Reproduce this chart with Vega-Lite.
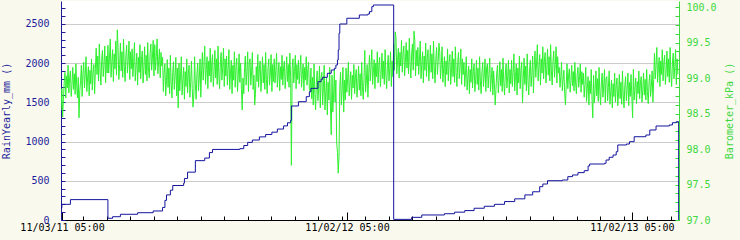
{
"$schema": "https://vega.github.io/schema/vega-lite/v6.json",
"width": 618,
"height": 219,
"autosize": "none",
"padding": {"left": 61, "top": 1, "right": 61, "bottom": 20},
"background": "#f9f9ee",
"config": {
  "view": {"fill": "white", "stroke": null},
  "axis": {"labelFont": "DejaVu Sans Mono", "titleFont": "DejaVu Sans Mono", "labelFontSize": 10, "titleFontSize": 10, "titleFontWeight": "normal", "labelBound": false, "labelFlush": false}
},
"datasets": {
"baro": [
{"t":"2011-11-02","p":98.55},{"t":"2011-11-03","p":98.85},{"t":"2011-11-04","p":98.45},{"t":"2011-11-05","p":98.70},{"t":"2011-11-06","p":98.94},{"t":"2011-11-07","p":99.08},{"t":"2011-11-08","p":98.72},{"t":"2011-11-09","p":99.03},{"t":"2011-11-10","p":98.86},{"t":"2011-11-11","p":99.18},{"t":"2011-11-12","p":98.79},{"t":"2011-11-13","p":99.01},{"t":"2011-11-14","p":99.10},{"t":"2011-11-15","p":98.74},{"t":"2011-11-16","p":98.91},{"t":"2011-11-17","p":99.15},{"t":"2011-11-18","p":98.84},{"t":"2011-11-19","p":99.06},{"t":"2011-11-20","p":98.77},{"t":"2011-11-21","p":99.20},{"t":"2011-11-22","p":98.89},{"t":"2011-11-23","p":98.72},{"t":"2011-11-24","p":99.01},{"t":"2011-11-25","p":98.44},{"t":"2011-11-26","p":98.82},{"t":"2011-11-27","p":98.96},{"t":"2011-11-28","p":99.18},{"t":"2011-11-29","p":98.74},{"t":"2011-11-30","p":99.06},
{"t":"2011-12-01","p":99.22},{"t":"2011-12-02","p":98.86},{"t":"2011-12-03","p":99.05},{"t":"2011-12-04","p":99.30},{"t":"2011-12-05","p":98.81},{"t":"2011-12-06","p":99.00},{"t":"2011-12-07","p":99.16},{"t":"2011-12-08","p":98.75},{"t":"2011-12-09","p":99.11},{"t":"2011-12-10","p":98.92},{"t":"2011-12-11","p":99.27},{"t":"2011-12-12","p":98.83},{"t":"2011-12-13","p":99.08},{"t":"2011-12-14","p":99.19},{"t":"2011-12-15","p":98.78},{"t":"2011-12-16","p":99.13},{"t":"2011-12-17","p":99.42},{"t":"2011-12-18","p":99.05},{"t":"2011-12-19","p":99.31},{"t":"2011-12-20","p":98.96},{"t":"2011-12-21","p":99.48},{"t":"2011-12-22","p":99.10},{"t":"2011-12-23","p":98.90},{"t":"2011-12-24","p":99.25},{"t":"2011-12-25","p":99.39},{"t":"2011-12-26","p":99.02},{"t":"2011-12-27","p":99.19},{"t":"2011-12-28","p":99.45},{"t":"2011-12-29","p":98.93},{"t":"2011-12-30","p":99.31},{"t":"2011-12-31","p":99.07},
{"t":"2012-01-01","p":99.46},{"t":"2012-01-02","p":99.07},{"t":"2012-01-03","p":99.28},{"t":"2012-01-04","p":99.55},{"t":"2012-01-05","p":99.01},{"t":"2012-01-06","p":99.22},{"t":"2012-01-07","p":99.40},{"t":"2012-01-08","p":98.95},{"t":"2012-01-09","p":99.34},{"t":"2012-01-10","p":99.13},{"t":"2012-01-11","p":99.52},{"t":"2012-01-12","p":99.04},{"t":"2012-01-13","p":99.68},{"t":"2012-01-14","p":99.43},{"t":"2012-01-15","p":98.98},{"t":"2012-01-16","p":99.19},{"t":"2012-01-17","p":99.49},{"t":"2012-01-18","p":99.10},{"t":"2012-01-19","p":99.37},{"t":"2012-01-20","p":99.01},{"t":"2012-01-21","p":99.55},{"t":"2012-01-22","p":99.16},{"t":"2012-01-23","p":98.95},{"t":"2012-01-24","p":99.31},{"t":"2012-01-25","p":99.46},{"t":"2012-01-26","p":99.07},{"t":"2012-01-27","p":99.25},{"t":"2012-01-28","p":99.52},{"t":"2012-01-29","p":98.98},{"t":"2012-01-30","p":99.37},{"t":"2012-01-31","p":99.13},
{"t":"2012-02-01","p":99.41},{"t":"2012-02-02","p":99.02},{"t":"2012-02-03","p":99.23},{"t":"2012-02-04","p":99.50},{"t":"2012-02-05","p":98.96},{"t":"2012-02-06","p":99.17},{"t":"2012-02-07","p":99.35},{"t":"2012-02-08","p":98.90},{"t":"2012-02-09","p":99.29},{"t":"2012-02-10","p":99.08},{"t":"2012-02-11","p":99.47},{"t":"2012-02-12","p":98.99},{"t":"2012-02-13","p":99.26},{"t":"2012-02-14","p":99.38},{"t":"2012-02-15","p":98.93},{"t":"2012-02-16","p":99.14},{"t":"2012-02-17","p":99.44},{"t":"2012-02-18","p":99.05},{"t":"2012-02-19","p":99.32},{"t":"2012-02-20","p":98.96},{"t":"2012-02-21","p":99.50},{"t":"2012-02-22","p":99.11},{"t":"2012-02-23","p":99.00},{"t":"2012-02-24","p":99.34},{"t":"2012-02-25","p":99.48},{"t":"2012-02-26","p":99.11},{"t":"2012-02-27","p":99.28},{"t":"2012-02-28","p":99.53},{"t":"2012-02-29","p":99.03},
{"t":"2012-03-01","p":99.47},{"t":"2012-03-02","p":99.11},{"t":"2012-03-03","p":99.30},{"t":"2012-03-04","p":99.55},{"t":"2012-03-05","p":99.06},{"t":"2012-03-06","p":99.25},{"t":"2012-03-07","p":99.41},{"t":"2012-03-08","p":99.00},{"t":"2012-03-09","p":99.36},{"t":"2012-03-10","p":99.17},{"t":"2012-03-11","p":99.29},{"t":"2012-03-12","p":98.81},{"t":"2012-03-13","p":99.08},{"t":"2012-03-14","p":99.20},{"t":"2012-03-15","p":98.75},{"t":"2012-03-16","p":98.96},{"t":"2012-03-17","p":99.26},{"t":"2012-03-18","p":98.87},{"t":"2012-03-19","p":99.14},{"t":"2012-03-20","p":98.78},{"t":"2012-03-21","p":99.32},{"t":"2012-03-22","p":98.93},{"t":"2012-03-23","p":98.72},{"t":"2012-03-24","p":99.08},{"t":"2012-03-25","p":99.23},{"t":"2012-03-26","p":98.84},{"t":"2012-03-27","p":99.02},{"t":"2012-03-28","p":99.29},{"t":"2012-03-29","p":98.75},{"t":"2012-03-30","p":99.14},{"t":"2012-03-31","p":98.58},
{"t":"2012-04-01","p":99.21},{"t":"2012-04-02","p":98.82},{"t":"2012-04-03","p":99.03},{"t":"2012-04-04","p":99.30},{"t":"2012-04-05","p":98.76},{"t":"2012-04-06","p":98.97},{"t":"2012-04-07","p":99.15},{"t":"2012-04-08","p":98.70},{"t":"2012-04-09","p":99.09},{"t":"2012-04-10","p":98.88},{"t":"2012-04-11","p":99.27},{"t":"2012-04-12","p":98.79},{"t":"2012-04-13","p":99.06},{"t":"2012-04-14","p":99.18},{"t":"2012-04-15","p":98.73},{"t":"2012-04-16","p":98.94},{"t":"2012-04-17","p":99.24},{"t":"2012-04-18","p":98.85},{"t":"2012-04-19","p":98.59},{"t":"2012-04-20","p":98.76},{"t":"2012-04-21","p":99.30},{"t":"2012-04-22","p":98.91},{"t":"2012-04-23","p":98.70},{"t":"2012-04-24","p":99.06},{"t":"2012-04-25","p":99.21},{"t":"2012-04-26","p":98.82},{"t":"2012-04-27","p":99.00},{"t":"2012-04-28","p":99.27},{"t":"2012-04-29","p":98.73},{"t":"2012-04-30","p":99.12},
{"t":"2012-05-01","p":99.36},{"t":"2012-05-02","p":98.97},{"t":"2012-05-03","p":99.18},{"t":"2012-05-04","p":99.45},{"t":"2012-05-05","p":98.91},{"t":"2012-05-06","p":99.12},{"t":"2012-05-07","p":99.30},{"t":"2012-05-08","p":98.85},{"t":"2012-05-09","p":99.24},{"t":"2012-05-10","p":99.03},{"t":"2012-05-11","p":99.42},{"t":"2012-05-12","p":98.94},{"t":"2012-05-13","p":99.21},{"t":"2012-05-14","p":99.33},{"t":"2012-05-15","p":98.88},{"t":"2012-05-16","p":99.09},{"t":"2012-05-17","p":99.39},{"t":"2012-05-18","p":99.00},{"t":"2012-05-19","p":99.27},{"t":"2012-05-20","p":98.91},{"t":"2012-05-21","p":99.45},{"t":"2012-05-22","p":99.06},{"t":"2012-05-23","p":98.85},{"t":"2012-05-24","p":99.21},{"t":"2012-05-25","p":99.36},{"t":"2012-05-26","p":98.97},{"t":"2012-05-27","p":99.15},{"t":"2012-05-28","p":99.42},{"t":"2012-05-29","p":98.88},{"t":"2012-05-30","p":99.27},{"t":"2012-05-31","p":99.03},
{"t":"2012-06-01","p":99.31},{"t":"2012-06-02","p":98.90},{"t":"2012-06-03","p":99.12},{"t":"2012-06-04","p":99.40},{"t":"2012-06-05","p":98.84},{"t":"2012-06-06","p":99.06},{"t":"2012-06-07","p":99.25},{"t":"2012-06-08","p":98.78},{"t":"2012-06-09","p":99.18},{"t":"2012-06-10","p":98.97},{"t":"2012-06-11","p":99.37},{"t":"2012-06-12","p":98.87},{"t":"2012-06-13","p":99.15},{"t":"2012-06-14","p":99.28},{"t":"2012-06-15","p":98.81},{"t":"2012-06-16","p":99.03},{"t":"2012-06-17","p":99.34},{"t":"2012-06-18","p":98.94},{"t":"2012-06-19","p":99.21},{"t":"2012-06-20","p":98.84},{"t":"2012-06-21","p":98.55},{"t":"2012-06-22","p":99.00},{"t":"2012-06-23","p":98.78},{"t":"2012-06-24","p":99.15},{"t":"2012-06-25","p":99.31},{"t":"2012-06-26","p":98.90},{"t":"2012-06-27","p":99.09},{"t":"2012-06-28","p":99.37},{"t":"2012-06-29","p":98.81},{"t":"2012-06-30","p":99.21},
{"t":"2012-07-01","p":99.27},{"t":"2012-07-02","p":98.90},{"t":"2012-07-03","p":99.10},{"t":"2012-07-04","p":99.36},{"t":"2012-07-05","p":98.84},{"t":"2012-07-06","p":99.04},{"t":"2012-07-07","p":98.62},{"t":"2012-07-08","p":98.78},{"t":"2012-07-09","p":99.16},{"t":"2012-07-10","p":98.95},{"t":"2012-07-11","p":99.33},{"t":"2012-07-12","p":98.87},{"t":"2012-07-13","p":99.13},{"t":"2012-07-14","p":99.24},{"t":"2012-07-15","p":98.81},{"t":"2012-07-16","p":99.01},{"t":"2012-07-17","p":99.30},{"t":"2012-07-18","p":98.93},{"t":"2012-07-19","p":99.19},{"t":"2012-07-20","p":98.84},{"t":"2012-07-21","p":99.36},{"t":"2012-07-22","p":98.98},{"t":"2012-07-23","p":98.78},{"t":"2012-07-24","p":99.13},{"t":"2012-07-25","p":99.27},{"t":"2012-07-26","p":98.90},{"t":"2012-07-27","p":99.07},{"t":"2012-07-28","p":99.33},{"t":"2012-07-29","p":98.81},{"t":"2012-07-30","p":99.19},{"t":"2012-07-31","p":98.95},
{"t":"2012-08-01","p":99.27},{"t":"2012-08-02","p":98.93},{"t":"2012-08-03","p":99.11},{"t":"2012-08-04","p":99.35},{"t":"2012-08-05","p":98.87},{"t":"2012-08-06","p":99.06},{"t":"2012-08-07","p":99.22},{"t":"2012-08-08","p":98.82},{"t":"2012-08-09","p":99.16},{"t":"2012-08-10","p":98.98},{"t":"2012-08-11","p":99.32},{"t":"2012-08-12","p":98.90},{"t":"2012-08-13","p":99.14},{"t":"2012-08-14","p":99.24},{"t":"2012-08-15","p":98.85},{"t":"2012-08-16","p":99.03},{"t":"2012-08-17","p":99.30},{"t":"2012-08-18","p":98.95},{"t":"2012-08-19","p":99.19},{"t":"2012-08-20","p":98.87},{"t":"2012-08-21","p":99.35},{"t":"2012-08-22","p":99.01},{"t":"2012-08-23","p":97.77},{"t":"2012-08-24","p":99.14},{"t":"2012-08-25","p":99.27},{"t":"2012-08-26","p":98.93},{"t":"2012-08-27","p":99.09},{"t":"2012-08-28","p":99.32},{"t":"2012-08-29","p":98.85},{"t":"2012-08-30","p":99.19},{"t":"2012-08-31","p":98.98},
{"t":"2012-09-01","p":99.25},{"t":"2012-09-02","p":98.92},{"t":"2012-09-03","p":99.10},{"t":"2012-09-04","p":99.32},{"t":"2012-09-05","p":98.87},{"t":"2012-09-06","p":99.05},{"t":"2012-09-07","p":99.20},{"t":"2012-09-08","p":98.82},{"t":"2012-09-09","p":99.15},{"t":"2012-09-10","p":98.97},{"t":"2012-09-11","p":99.30},{"t":"2012-09-12","p":98.90},{"t":"2012-09-13","p":99.12},{"t":"2012-09-14","p":99.22},{"t":"2012-09-15","p":98.85},{"t":"2012-09-16","p":98.81},{"t":"2012-09-17","p":99.14},{"t":"2012-09-18","p":98.71},{"t":"2012-09-19","p":99.01},{"t":"2012-09-20","p":98.62},{"t":"2012-09-21","p":99.20},{"t":"2012-09-22","p":98.78},{"t":"2012-09-23","p":98.55},{"t":"2012-09-24","p":98.94},{"t":"2012-09-25","p":99.10},{"t":"2012-09-26","p":98.68},{"t":"2012-09-27","p":98.88},{"t":"2012-09-28","p":99.17},{"t":"2012-09-29","p":98.58},{"t":"2012-09-30","p":99.01},
{"t":"2012-10-01","p":99.08},{"t":"2012-10-02","p":98.62},{"t":"2012-10-03","p":98.87},{"t":"2012-10-04","p":99.18},{"t":"2012-10-05","p":98.55},{"t":"2012-10-06","p":98.80},{"t":"2012-10-07","p":99.01},{"t":"2012-10-08","p":98.48},{"t":"2012-10-09","p":98.94},{"t":"2012-10-10","p":98.69},{"t":"2012-10-11","p":99.15},{"t":"2012-10-12","p":98.59},{"t":"2012-10-13","p":98.20},{"t":"2012-10-14","p":99.04},{"t":"2012-10-15","p":98.52},{"t":"2012-10-16","p":98.76},{"t":"2012-10-17","p":99.11},{"t":"2012-10-18","p":98.66},{"t":"2012-10-19","p":98.97},{"t":"2012-10-20","p":98.10},{"t":"2012-10-21","p":97.95},{"t":"2012-10-22","p":97.66},{"t":"2012-10-23","p":97.90},{"t":"2012-10-24","p":98.90},{"t":"2012-10-25","p":99.08},{"t":"2012-10-26","p":98.62},{"t":"2012-10-27","p":98.83},{"t":"2012-10-28","p":99.15},{"t":"2012-10-29","p":98.52},{"t":"2012-10-30","p":98.97},{"t":"2012-10-31","p":98.69},
{"t":"2012-11-01","p":99.14},{"t":"2012-11-02","p":98.80},{"t":"2012-11-03","p":98.99},{"t":"2012-11-04","p":99.22},{"t":"2012-11-05","p":98.75},{"t":"2012-11-06","p":98.93},{"t":"2012-11-07","p":99.09},{"t":"2012-11-08","p":98.70},{"t":"2012-11-09","p":99.04},{"t":"2012-11-10","p":98.86},{"t":"2012-11-11","p":99.19},{"t":"2012-11-12","p":98.78},{"t":"2012-11-13","p":99.01},{"t":"2012-11-14","p":99.12},{"t":"2012-11-15","p":98.73},{"t":"2012-11-16","p":98.91},{"t":"2012-11-17","p":99.17},{"t":"2012-11-18","p":98.83},{"t":"2012-11-19","p":99.06},{"t":"2012-11-20","p":98.75},{"t":"2012-11-21","p":99.22},{"t":"2012-11-22","p":98.88},{"t":"2012-11-23","p":98.70},{"t":"2012-11-24","p":99.01},{"t":"2012-11-25","p":99.39},{"t":"2012-11-26","p":98.80},{"t":"2012-11-27","p":98.96},{"t":"2012-11-28","p":99.19},{"t":"2012-11-29","p":98.73},{"t":"2012-11-30","p":99.06},
{"t":"2012-12-01","p":99.32},{"t":"2012-12-02","p":98.96},{"t":"2012-12-03","p":99.15},{"t":"2012-12-04","p":99.40},{"t":"2012-12-05","p":98.91},{"t":"2012-12-06","p":99.10},{"t":"2012-12-07","p":99.26},{"t":"2012-12-08","p":98.85},{"t":"2012-12-09","p":99.21},{"t":"2012-12-10","p":99.02},{"t":"2012-12-11","p":99.37},{"t":"2012-12-12","p":98.93},{"t":"2012-12-13","p":99.18},{"t":"2012-12-14","p":99.29},{"t":"2012-12-15","p":98.88},{"t":"2012-12-16","p":99.07},{"t":"2012-12-17","p":99.35},{"t":"2012-12-18","p":98.99},{"t":"2012-12-19","p":99.24},{"t":"2012-12-20","p":98.91},{"t":"2012-12-21","p":99.40},{"t":"2012-12-22","p":99.04},{"t":"2012-12-23","p":98.85},{"t":"2012-12-24","p":99.18},{"t":"2012-12-25","p":99.32},{"t":"2012-12-26","p":98.96},{"t":"2012-12-27","p":99.13},{"t":"2012-12-28","p":99.37},{"t":"2012-12-29","p":98.88},{"t":"2012-12-30","p":99.24},{"t":"2012-12-31","p":99.02},
{"t":"2013-01-01","p":99.48},{"t":"2013-01-02","p":99.11},{"t":"2013-01-03","p":99.65},{"t":"2013-01-04","p":99.56},{"t":"2013-01-05","p":99.06},{"t":"2013-01-06","p":99.25},{"t":"2013-01-07","p":99.42},{"t":"2013-01-08","p":99.00},{"t":"2013-01-09","p":99.36},{"t":"2013-01-10","p":99.17},{"t":"2013-01-11","p":99.53},{"t":"2013-01-12","p":99.08},{"t":"2013-01-13","p":99.34},{"t":"2013-01-14","p":99.45},{"t":"2013-01-15","p":99.03},{"t":"2013-01-16","p":99.22},{"t":"2013-01-17","p":99.50},{"t":"2013-01-18","p":99.14},{"t":"2013-01-19","p":99.39},{"t":"2013-01-20","p":99.06},{"t":"2013-01-21","p":99.56},{"t":"2013-01-22","p":99.20},{"t":"2013-01-23","p":99.00},{"t":"2013-01-24","p":99.34},{"t":"2013-01-25","p":99.48},{"t":"2013-01-26","p":99.11},{"t":"2013-01-27","p":99.66},{"t":"2013-01-28","p":99.53},{"t":"2013-01-29","p":99.03},{"t":"2013-01-30","p":99.39},{"t":"2013-01-31","p":99.17},
{"t":"2013-02-01","p":99.43},{"t":"2013-02-02","p":99.05},{"t":"2013-02-03","p":99.25},{"t":"2013-02-04","p":99.52},{"t":"2013-02-05","p":98.99},{"t":"2013-02-06","p":99.20},{"t":"2013-02-07","p":99.37},{"t":"2013-02-08","p":98.93},{"t":"2013-02-09","p":99.31},{"t":"2013-02-10","p":99.11},{"t":"2013-02-11","p":99.49},{"t":"2013-02-12","p":99.02},{"t":"2013-02-13","p":99.28},{"t":"2013-02-14","p":99.40},{"t":"2013-02-15","p":98.96},{"t":"2013-02-16","p":99.17},{"t":"2013-02-17","p":99.46},{"t":"2013-02-18","p":99.08},{"t":"2013-02-19","p":99.34},{"t":"2013-02-20","p":98.99},{"t":"2013-02-21","p":99.52},{"t":"2013-02-22","p":99.14},{"t":"2013-02-23","p":98.93},{"t":"2013-02-24","p":99.28},{"t":"2013-02-25","p":99.43},{"t":"2013-02-26","p":99.05},{"t":"2013-02-27","p":99.23},{"t":"2013-02-28","p":99.49},
{"t":"2013-03-01","p":99.36},{"t":"2013-03-02","p":98.99},{"t":"2013-03-03","p":99.19},{"t":"2013-03-04","p":99.44},{"t":"2013-03-05","p":98.94},{"t":"2013-03-06","p":99.13},{"t":"2013-03-07","p":99.30},{"t":"2013-03-08","p":98.88},{"t":"2013-03-09","p":99.24},{"t":"2013-03-10","p":99.05},{"t":"2013-03-11","p":99.41},{"t":"2013-03-12","p":98.96},{"t":"2013-03-13","p":99.22},{"t":"2013-03-14","p":99.33},{"t":"2013-03-15","p":98.91},{"t":"2013-03-16","p":99.10},{"t":"2013-03-17","p":99.38},{"t":"2013-03-18","p":99.02},{"t":"2013-03-19","p":99.27},{"t":"2013-03-20","p":98.94},{"t":"2013-03-21","p":99.44},{"t":"2013-03-22","p":99.08},{"t":"2013-03-23","p":98.88},{"t":"2013-03-24","p":99.22},{"t":"2013-03-25","p":99.36},{"t":"2013-03-26","p":98.99},{"t":"2013-03-27","p":99.16},{"t":"2013-03-28","p":99.41},{"t":"2013-03-29","p":98.91},{"t":"2013-03-30","p":99.27},{"t":"2013-03-31","p":99.05},
{"t":"2013-04-01","p":99.22},{"t":"2013-04-02","p":98.88},{"t":"2013-04-03","p":99.07},{"t":"2013-04-04","p":99.30},{"t":"2013-04-05","p":98.83},{"t":"2013-04-06","p":99.01},{"t":"2013-04-07","p":99.17},{"t":"2013-04-08","p":98.78},{"t":"2013-04-09","p":99.12},{"t":"2013-04-10","p":98.94},{"t":"2013-04-11","p":99.27},{"t":"2013-04-12","p":98.86},{"t":"2013-04-13","p":99.09},{"t":"2013-04-14","p":99.20},{"t":"2013-04-15","p":98.81},{"t":"2013-04-16","p":98.99},{"t":"2013-04-17","p":99.25},{"t":"2013-04-18","p":98.91},{"t":"2013-04-19","p":99.14},{"t":"2013-04-20","p":98.83},{"t":"2013-04-21","p":99.30},{"t":"2013-04-22","p":98.96},{"t":"2013-04-23","p":98.78},{"t":"2013-04-24","p":99.09},{"t":"2013-04-25","p":99.22},{"t":"2013-04-26","p":98.88},{"t":"2013-04-27","p":99.04},{"t":"2013-04-28","p":99.27},{"t":"2013-04-29","p":98.81},{"t":"2013-04-30","p":99.14},
{"t":"2013-05-01","p":99.20},{"t":"2013-05-02","p":98.86},{"t":"2013-05-03","p":99.05},{"t":"2013-05-04","p":99.28},{"t":"2013-05-05","p":98.81},{"t":"2013-05-06","p":98.99},{"t":"2013-05-07","p":99.15},{"t":"2013-05-08","p":98.76},{"t":"2013-05-09","p":99.10},{"t":"2013-05-10","p":98.92},{"t":"2013-05-11","p":98.62},{"t":"2013-05-12","p":98.84},{"t":"2013-05-13","p":99.07},{"t":"2013-05-14","p":99.18},{"t":"2013-05-15","p":98.79},{"t":"2013-05-16","p":98.97},{"t":"2013-05-17","p":99.23},{"t":"2013-05-18","p":98.89},{"t":"2013-05-19","p":99.12},{"t":"2013-05-20","p":98.81},{"t":"2013-05-21","p":99.28},{"t":"2013-05-22","p":98.94},{"t":"2013-05-23","p":98.76},{"t":"2013-05-24","p":99.07},{"t":"2013-05-25","p":99.20},{"t":"2013-05-26","p":98.86},{"t":"2013-05-27","p":99.02},{"t":"2013-05-28","p":99.25},{"t":"2013-05-29","p":98.79},{"t":"2013-05-30","p":99.12},{"t":"2013-05-31","p":98.92},
{"t":"2013-06-01","p":99.25},{"t":"2013-06-02","p":98.88},{"t":"2013-06-03","p":99.08},{"t":"2013-06-04","p":99.34},{"t":"2013-06-05","p":98.82},{"t":"2013-06-06","p":99.02},{"t":"2013-06-07","p":99.20},{"t":"2013-06-08","p":98.76},{"t":"2013-06-09","p":99.14},{"t":"2013-06-10","p":98.93},{"t":"2013-06-11","p":99.31},{"t":"2013-06-12","p":98.85},{"t":"2013-06-13","p":99.11},{"t":"2013-06-14","p":99.22},{"t":"2013-06-15","p":98.65},{"t":"2013-06-16","p":98.99},{"t":"2013-06-17","p":99.28},{"t":"2013-06-18","p":98.91},{"t":"2013-06-19","p":99.17},{"t":"2013-06-20","p":98.82},{"t":"2013-06-21","p":99.34},{"t":"2013-06-22","p":98.96},{"t":"2013-06-23","p":98.76},{"t":"2013-06-24","p":99.11},{"t":"2013-06-25","p":99.25},{"t":"2013-06-26","p":98.88},{"t":"2013-06-27","p":99.05},{"t":"2013-06-28","p":99.31},{"t":"2013-06-29","p":98.79},{"t":"2013-06-30","p":99.17},
{"t":"2013-07-01","p":99.38},{"t":"2013-07-02","p":99.01},{"t":"2013-07-03","p":99.21},{"t":"2013-07-04","p":99.47},{"t":"2013-07-05","p":98.96},{"t":"2013-07-06","p":99.16},{"t":"2013-07-07","p":99.33},{"t":"2013-07-08","p":98.90},{"t":"2013-07-09","p":99.27},{"t":"2013-07-10","p":99.07},{"t":"2013-07-11","p":99.44},{"t":"2013-07-12","p":98.99},{"t":"2013-07-13","p":99.24},{"t":"2013-07-14","p":99.36},{"t":"2013-07-15","p":98.93},{"t":"2013-07-16","p":99.13},{"t":"2013-07-17","p":99.41},{"t":"2013-07-18","p":99.04},{"t":"2013-07-19","p":99.30},{"t":"2013-07-20","p":98.96},{"t":"2013-07-21","p":99.47},{"t":"2013-07-22","p":99.10},{"t":"2013-07-23","p":98.90},{"t":"2013-07-24","p":99.24},{"t":"2013-07-25","p":99.38},{"t":"2013-07-26","p":99.01},{"t":"2013-07-27","p":99.19},{"t":"2013-07-28","p":99.44},{"t":"2013-07-29","p":98.93},{"t":"2013-07-30","p":99.30},{"t":"2013-07-31","p":99.07},
{"t":"2013-08-01","p":99.15},{"t":"2013-08-02","p":98.87},{"t":"2013-08-03","p":99.02},{"t":"2013-08-04","p":99.22},{"t":"2013-08-05","p":98.82},{"t":"2013-08-06","p":98.98},{"t":"2013-08-07","p":99.11},{"t":"2013-08-08","p":98.78},{"t":"2013-08-09","p":98.62},{"t":"2013-08-10","p":98.91},{"t":"2013-08-11","p":99.20},{"t":"2013-08-12","p":98.85},{"t":"2013-08-13","p":99.04},{"t":"2013-08-14","p":99.13},{"t":"2013-08-15","p":98.80},{"t":"2013-08-16","p":98.96},{"t":"2013-08-17","p":99.18},{"t":"2013-08-18","p":98.89},{"t":"2013-08-19","p":99.09},{"t":"2013-08-20","p":98.82},{"t":"2013-08-21","p":99.22},{"t":"2013-08-22","p":98.93},{"t":"2013-08-23","p":98.78},{"t":"2013-08-24","p":99.04},{"t":"2013-08-25","p":99.15},{"t":"2013-08-26","p":98.87},{"t":"2013-08-27","p":99.00},{"t":"2013-08-28","p":99.20},{"t":"2013-08-29","p":98.80},{"t":"2013-08-30","p":99.09},{"t":"2013-08-31","p":98.91},
{"t":"2013-09-01","p":99.07},{"t":"2013-09-02","p":98.73},{"t":"2013-09-03","p":98.91},{"t":"2013-09-04","p":99.15},{"t":"2013-09-05","p":98.67},{"t":"2013-09-06","p":98.86},{"t":"2013-09-07","p":99.02},{"t":"2013-09-08","p":98.62},{"t":"2013-09-09","p":98.96},{"t":"2013-09-10","p":98.78},{"t":"2013-09-11","p":99.12},{"t":"2013-09-12","p":98.70},{"t":"2013-09-13","p":98.44},{"t":"2013-09-14","p":99.04},{"t":"2013-09-15","p":98.65},{"t":"2013-09-16","p":98.83},{"t":"2013-09-17","p":99.10},{"t":"2013-09-18","p":98.75},{"t":"2013-09-19","p":98.99},{"t":"2013-09-20","p":98.67},{"t":"2013-09-21","p":99.15},{"t":"2013-09-22","p":98.81},{"t":"2013-09-23","p":98.62},{"t":"2013-09-24","p":98.94},{"t":"2013-09-25","p":99.07},{"t":"2013-09-26","p":98.73},{"t":"2013-09-27","p":98.89},{"t":"2013-09-28","p":99.12},{"t":"2013-09-29","p":98.65},{"t":"2013-09-30","p":98.99},
{"t":"2013-10-01","p":99.02},{"t":"2013-10-02","p":98.68},{"t":"2013-10-03","p":98.87},{"t":"2013-10-04","p":99.10},{"t":"2013-10-05","p":98.63},{"t":"2013-10-06","p":98.81},{"t":"2013-10-07","p":98.97},{"t":"2013-10-08","p":98.58},{"t":"2013-10-09","p":98.92},{"t":"2013-10-10","p":98.74},{"t":"2013-10-11","p":99.07},{"t":"2013-10-12","p":98.66},{"t":"2013-10-13","p":98.89},{"t":"2013-10-14","p":99.00},{"t":"2013-10-15","p":98.61},{"t":"2013-10-16","p":98.79},{"t":"2013-10-17","p":99.05},{"t":"2013-10-18","p":98.71},{"t":"2013-10-19","p":98.94},{"t":"2013-10-20","p":98.63},{"t":"2013-10-21","p":99.10},{"t":"2013-10-22","p":98.76},{"t":"2013-10-23","p":98.58},{"t":"2013-10-24","p":98.89},{"t":"2013-10-25","p":99.02},{"t":"2013-10-26","p":98.68},{"t":"2013-10-27","p":98.84},{"t":"2013-10-28","p":99.07},{"t":"2013-10-29","p":98.61},{"t":"2013-10-30","p":98.94},{"t":"2013-10-31","p":98.74},
{"t":"2013-11-01","p":99.05},{"t":"2013-11-02","p":98.74},{"t":"2013-11-03","p":98.44},{"t":"2013-11-04","p":99.12},{"t":"2013-11-05","p":98.69},{"t":"2013-11-06","p":98.86},{"t":"2013-11-07","p":99.00},{"t":"2013-11-08","p":98.64},{"t":"2013-11-09","p":98.95},{"t":"2013-11-10","p":98.78},{"t":"2013-11-11","p":99.10},{"t":"2013-11-12","p":98.71},{"t":"2013-11-13","p":98.93},{"t":"2013-11-14","p":99.02},{"t":"2013-11-15","p":98.66},{"t":"2013-11-16","p":98.83},{"t":"2013-11-17","p":99.07},{"t":"2013-11-18","p":98.76},{"t":"2013-11-19","p":98.98},{"t":"2013-11-20","p":98.69},{"t":"2013-11-21","p":99.12},{"t":"2013-11-22","p":98.81},{"t":"2013-11-23","p":98.64},{"t":"2013-11-24","p":98.93},{"t":"2013-11-25","p":99.05},{"t":"2013-11-26","p":98.74},{"t":"2013-11-27","p":98.88},{"t":"2013-11-28","p":99.10},{"t":"2013-11-29","p":98.66},{"t":"2013-11-30","p":98.98},
{"t":"2013-12-01","p":99.35},{"t":"2013-12-02","p":98.99},{"t":"2013-12-03","p":99.18},{"t":"2013-12-04","p":99.43},{"t":"2013-12-05","p":98.94},{"t":"2013-12-06","p":99.13},{"t":"2013-12-07","p":99.29},{"t":"2013-12-08","p":98.88},{"t":"2013-12-09","p":99.24},{"t":"2013-12-10","p":99.05},{"t":"2013-12-11","p":99.40},{"t":"2013-12-12","p":98.96},{"t":"2013-12-13","p":99.21},{"t":"2013-12-14","p":99.32},{"t":"2013-12-15","p":98.91},{"t":"2013-12-16","p":99.10},{"t":"2013-12-17","p":99.38},{"t":"2013-12-18","p":99.02},{"t":"2013-12-19","p":99.27},{"t":"2013-12-20","p":98.94},{"t":"2013-12-21","p":99.43},{"t":"2013-12-22","p":99.07},{"t":"2013-12-23","p":98.88},{"t":"2013-12-24","p":99.21},{"t":"2013-12-25","p":99.35},{"t":"2013-12-26","p":98.99},{"t":"2013-12-27","p":99.16},{"t":"2013-12-28","p":99.40},{"t":"2013-12-29","p":98.91},{"t":"2013-12-30","p":99.27},{"t":"2013-12-31","p":99.05}
],
"rain": [
{"t":"2011-11-02","r":150},{"t":"2011-11-03","r":200},{"t":"2011-11-14","r":260},
{"t":"2012-01-01","r":22},{"t":"2012-01-07","r":42},{"t":"2012-01-17","r":73},{"t":"2012-02-08","r":93},{"t":"2012-02-28","r":115},{"t":"2012-03-11","r":160},{"t":"2012-03-14","r":250},{"t":"2012-03-16","r":320},{"t":"2012-03-21","r":380},{"t":"2012-03-24","r":440},{"t":"2012-04-07","r":470},{"t":"2012-04-08","r":530},{"t":"2012-04-12","r":610},{"t":"2012-04-22","r":757},{"t":"2012-05-04","r":790},{"t":"2012-05-10","r":860},{"t":"2012-05-14","r":900},{"t":"2012-06-18","r":910},{"t":"2012-06-23","r":950},{"t":"2012-06-28","r":990},{"t":"2012-07-04","r":1020},{"t":"2012-07-13","r":1060},{"t":"2012-07-21","r":1090},{"t":"2012-07-29","r":1120},{"t":"2012-08-05","r":1160},{"t":"2012-08-13","r":1200},{"t":"2012-08-18","r":1240},{"t":"2012-08-22","r":1270},{"t":"2012-08-23","r":1454},{"t":"2012-09-01","r":1509},{"t":"2012-09-11","r":1573},{"t":"2012-09-15","r":1636},{"t":"2012-09-17","r":1679},{"t":"2012-09-26","r":1764},{"t":"2012-09-30","r":1795},{"t":"2012-10-02","r":1820},{"t":"2012-10-08","r":1871},{"t":"2012-10-13","r":1913},{"t":"2012-10-17","r":1935},{"t":"2012-10-19","r":1977},{"t":"2012-10-21","r":2041},{"t":"2012-10-22","r":2168},{"t":"2012-10-23","r":2381},{"t":"2012-10-24","r":2500},{"t":"2012-11-02","r":2573},{"t":"2012-11-18","r":2615},{"t":"2012-11-29","r":2627},{"t":"2012-12-01","r":2657},{"t":"2012-12-04","r":2721},{"t":"2012-12-06","r":2742},
{"t":"2013-01-01","r":8},{"t":"2013-01-24","r":34},{"t":"2013-02-06","r":64},{"t":"2013-03-07","r":80},{"t":"2013-03-20","r":100},{"t":"2013-04-02","r":120},{"t":"2013-04-14","r":150},{"t":"2013-04-27","r":175},{"t":"2013-05-10","r":200},{"t":"2013-05-23","r":235},{"t":"2013-06-05","r":270},{"t":"2013-06-18","r":320},{"t":"2013-06-28","r":360},{"t":"2013-07-07","r":425},{"t":"2013-07-11","r":459},{"t":"2013-07-17","r":501},{"t":"2013-08-05","r":510},{"t":"2013-08-12","r":553},{"t":"2013-08-18","r":574},{"t":"2013-08-25","r":604},{"t":"2013-09-02","r":629},{"t":"2013-09-07","r":689},{"t":"2013-09-09","r":714},{"t":"2013-09-28","r":723},{"t":"2013-09-30","r":765},{"t":"2013-10-04","r":800},{"t":"2013-10-09","r":829},{"t":"2013-10-13","r":871},{"t":"2013-10-15","r":957},{"t":"2013-10-26","r":969},{"t":"2013-10-30","r":999},{"t":"2013-11-05","r":1062},{"t":"2013-11-20","r":1084},{"t":"2013-11-25","r":1148},{"t":"2013-12-03","r":1199},{"t":"2013-12-20","r":1212},{"t":"2013-12-24","r":1241},{"t":"2013-12-29","r":1254},{"t":"2014-01-01","r":0}
]
},
"layer": [
{
  "data": {"name": "baro"},
  "mark": {"type": "line", "color": "#2ef02e", "strokeWidth": 1, "clip": true},
  "encoding": {
    "x": {"field": "t", "type": "temporal",
      "scale": {"type": "utc", "domain": [{"year": 2011, "month": 11, "date": 1, "hours": 22, "utc": true}, {"year": 2014, "month": 1, "date": 1, "hours": 10, "utc": true}]},
      "axis": {"orient": "bottom", "title": null, "grid": false, "domainColor": "#000000", "tickColor": "#000000", "labelColor": "#000000", "labelOverlap": false, "labelFlush": false, "labelBound": false,
        "values": [1320296400000, 1351832400000, 1383368400000],
        "labelExpr": "utcFormat(datum.value, '%m/%d/%y %H:%M')",
        "tickSize": -8,
        "labelPadding": 10
      }
    },
    "y": {"field": "p", "type": "quantitative",
      "scale": {"domain": [97, 100.085], "nice": false, "zero": false},
      "axis": {"orient": "right", "title": "Barometer_kPa ()", "titleAngle": 270, "titleColor": "#3ed83e", "titlePadding": 18, "grid": false,
        "domainColor": "#3ed83e", "tickColor": "#3ed83e", "labelColor": "#3ed83e", "tickSize": -4, "labelPadding": 11, "labelOverlap": false,
        "values": [97, 97.125, 97.25, 97.375, 97.5, 97.625, 97.75, 97.875, 98, 98.125, 98.25, 98.375, 98.5, 98.625, 98.75, 98.875, 99, 99.125, 99.25, 99.375, 99.5, 99.625, 99.75, 99.875, 100],
        "labelExpr": "datum.value * 2 == round(datum.value * 2) ? format(datum.value, '.1f') : ''"
      }
    }
  }
},
{
  "data": {"name": "rain"},
  "mark": {"type": "line", "interpolate": "step-after", "color": "#14149e", "strokeWidth": 1, "clip": true},
  "encoding": {
    "x": {"field": "t", "type": "temporal",
      "axis": {"orient": "bottom", "title": null, "grid": false, "labels": false, "domain": false, "tickColor": "#000000", "tickSize": -4,
        "values": [1322620560000, 1325221200000, 1327821840000, 1330431120000, 1333031760000, 1335632400000, 1338233040000, 1340833680000, 1343442960000, 1346043600000, 1348644240000, 1351244880000, 1353845520000, 1356454800000, 1359055440000, 1361656080000, 1364256720000, 1366857360000, 1369466640000, 1372067280000, 1374667920000, 1377268560000, 1379869200000, 1382478480000, 1385079120000, 1387679760000]
      }
    },
    "y": {"field": "r", "type": "quantitative",
      "scale": {"domain": [0, 2793], "nice": false},
      "axis": {"orient": "left", "title": "RainYearly_mm ()", "titleColor": "#1e1e9a", "titlePadding": 13,
        "grid": true, "gridColor": "#cccccc",
        "gridOpacity": {"condition": {"test": "datum.value % 500 == 0 && datum.value > 0", "value": 1}, "value": 0},
        "domainColor": "#1e1e9a", "tickColor": "#1e1e9a", "labelColor": "#1e1e9a", "tickSize": -4, "labelPadding": 16, "labelOverlap": false,
        "values": [0, 100, 200, 300, 400, 500, 600, 700, 800, 900, 1000, 1100, 1200, 1300, 1400, 1500, 1600, 1700, 1800, 1900, 2000, 2100, 2200, 2300, 2400, 2500, 2600, 2700],
        "labelExpr": "datum.value % 500 == 0 ? format(datum.value, 'd') : ''"
      }
    }
  }
}
],
"resolve": {"scale": {"y": "independent"}, "axis": {"x": "independent", "y": "independent"}}
}
